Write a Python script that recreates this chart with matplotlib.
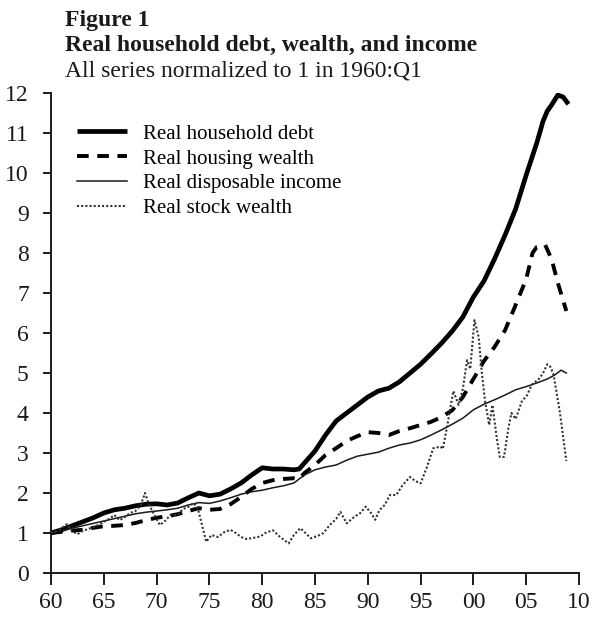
import numpy as np
import matplotlib
matplotlib.use("Agg")
import matplotlib.pyplot as plt

plt.rcParams['font.family'] = ['Liberation Serif', 'DejaVu Serif']

# years since 1900
debt_x = [60, 61, 62, 63, 64, 65, 66, 67, 68, 69, 70, 71, 72, 73, 74, 75, 76, 77, 78, 79,
          80, 81, 82, 83, 83.5, 84, 85, 86, 87, 88, 89, 90, 91, 92, 93, 94, 95, 96, 97, 98,
          99, 100, 101, 102, 103, 104, 105, 106, 106.6, 107, 107.4, 108, 108.5, 109]
debt_y = [1.0, 1.08, 1.18, 1.28, 1.38, 1.5, 1.58, 1.62, 1.68, 1.72, 1.73, 1.7, 1.75, 1.88, 2.0, 1.93, 1.97, 2.1, 2.25, 2.45,
          2.63, 2.6, 2.6, 2.58, 2.6, 2.75, 3.05, 3.45, 3.8, 4.0, 4.2, 4.4, 4.55, 4.62, 4.78, 5.0, 5.22, 5.48, 5.75, 6.05,
          6.4, 6.9, 7.3, 7.85, 8.45, 9.1, 9.95, 10.75, 11.3, 11.55, 11.7, 11.95, 11.9, 11.72]

housing_x = [60, 61, 62, 63, 64, 65, 66, 67, 68, 69, 70, 71, 72, 73, 74, 75, 76, 77, 78, 79,
             80, 81, 82, 83, 83.5, 84, 85, 86, 87, 88, 89, 90, 91, 92, 93, 94, 95, 96, 97, 98,
             99, 100, 101, 102, 103, 104, 105, 105.6, 106, 106.8, 107.4, 108, 108.8]
housing_y = [1.0, 1.03, 1.06, 1.08, 1.13, 1.17, 1.18, 1.2, 1.25, 1.32, 1.38, 1.42, 1.47, 1.55, 1.62, 1.58, 1.6, 1.72, 1.9, 2.1,
             2.25, 2.32, 2.35, 2.37, 2.35, 2.5, 2.7, 2.95, 3.12, 3.3, 3.42, 3.52, 3.5, 3.45, 3.55, 3.62, 3.7, 3.78, 3.9, 4.07,
             4.4, 4.85, 5.3, 5.65, 6.07, 6.7, 7.35, 8.0, 8.15, 8.2, 7.85, 7.25, 6.55]

income_x = [60, 61, 62, 63, 64, 65, 66, 67, 68, 69, 70, 71, 72, 73, 74, 75, 76, 77, 78, 79,
            80, 81, 82, 83, 84, 85, 86, 87, 88, 89, 90, 91, 92, 93, 94, 95, 96, 97, 98, 99,
            100, 101, 102, 103, 104, 105, 106, 107, 107.7, 108.3, 108.8]
income_y = [1.0, 1.05, 1.12, 1.18, 1.24, 1.3, 1.36, 1.42, 1.48, 1.52, 1.55, 1.58, 1.62, 1.7, 1.76, 1.74, 1.8, 1.88, 1.97, 2.03,
            2.07, 2.13, 2.18, 2.25, 2.45, 2.58, 2.65, 2.7, 2.82, 2.92, 2.97, 3.02, 3.12, 3.2, 3.25, 3.33, 3.45, 3.58, 3.72, 3.87,
            4.08, 4.22, 4.33, 4.45, 4.58, 4.66, 4.75, 4.85, 4.95, 5.07, 5.0]

stock_x = [60, 60.5, 61, 61.5, 62, 62.5, 63, 63.5, 64, 64.5, 65, 65.5, 66, 66.5, 67, 67.5, 68, 68.5, 68.9, 69.3,
           69.8, 70.3, 70.8, 71.3, 72, 72.5, 73, 73.5, 73.9, 74.3, 74.7, 75.2, 75.8, 76.4, 77, 77.5, 78, 78.5, 79.2, 79.8,
           80.3, 81, 81.7, 82.5, 83, 83.6, 84.1, 84.6, 85.2, 85.8, 86.4, 87, 87.4, 88, 88.7, 89.3, 89.8, 90.3, 90.7, 91.1,
           91.6, 92.1, 92.7, 93.3, 94, 94.5, 95, 95.6, 96.2, 96.9, 97.1, 97.4, 97.8, 98.1, 98.6, 99, 99.4, 99.7, 100.1, 100.5,
           100.8, 101.1, 101.5, 101.8, 102.2, 102.5, 102.9, 103.3, 103.6, 104, 104.6, 105.1, 105.5, 106.2, 106.6, 107, 107.3,
           107.6, 108.2, 108.8]
stock_y = [1.0, 1.05, 1.12, 1.22, 1.05, 0.97, 1.05, 1.1, 1.15, 1.2, 1.28, 1.35, 1.45, 1.32, 1.4, 1.5, 1.55, 1.7, 2.0, 1.7,
           1.45, 1.2, 1.3, 1.45, 1.45, 1.6, 1.65, 1.75, 1.62, 1.2, 0.78, 0.95, 0.9, 1.02, 1.08, 1.0, 0.9, 0.85, 0.88, 0.91,
           1.0, 1.07, 0.9, 0.74, 0.95, 1.12, 1.0, 0.87, 0.92, 1.0, 1.2, 1.35, 1.53, 1.24, 1.4, 1.5, 1.66, 1.5, 1.33, 1.57,
           1.7, 1.95, 1.95, 2.2, 2.4, 2.3, 2.24, 2.65, 3.12, 3.16, 3.1, 3.5, 4.1, 4.55, 4.2, 4.6, 5.32, 5.1, 6.32, 5.9,
           5.0, 4.3, 3.7, 4.2, 3.4, 2.9, 2.9, 3.6, 4.0, 3.85, 4.3, 4.45, 4.7, 4.85, 5.0, 5.22, 5.15,
           4.95, 4.0, 2.8]

x_ticks = [60, 65, 70, 75, 80, 85, 90, 95, 100, 105, 110]
x_labels = ['60', '65', '70', '75', '80', '85', '90', '95', '00', '05', '10']
y_ticks = list(range(0, 13))

labels = ['Real household debt', 'Real housing wealth', 'Real disposable income', 'Real stock wealth']


def main():
    fig = plt.figure(figsize=(5.92, 6.18), dpi=100)
    ax = fig.add_axes([51/592, 1-573/618, 528/592, 480/618])

    ink = '#1a1a1a'
    ax.plot(debt_x, debt_y, color='black', lw=3.4, label=labels[0], solid_capstyle='butt')
    ax.plot(housing_x, housing_y, color='black', lw=2.8, linestyle=(0, (3, 2.2)), label=labels[1])
    ax.plot(income_x, income_y, color=ink, lw=1.1, label=labels[2])
    ax.plot(stock_x, stock_y, color='#333333', lw=1.5, linestyle=(0, (1, 1)), label=labels[3])

    ax.set_xlim(60, 110)
    ax.set_ylim(0, 12)
    ax.set_xticks(x_ticks)
    ax.set_xticklabels(x_labels)
    ax.set_yticks(y_ticks)
    for s in ['top', 'right']:
        ax.spines[s].set_visible(False)
    for s in ['left', 'bottom']:
        ax.spines[s].set_linewidth(1.4)
        ax.spines[s].set_color(ink)
    ax.tick_params(axis='x', direction='out', length=8.5, width=1.4, pad=5, labelsize=17, colors=ink)
    ax.tick_params(axis='y', direction='out', length=6, width=1.4, pad=10, labelsize=17, colors=ink)

    ax.legend(loc='upper left', bbox_to_anchor=(0.049, 0.935), frameon=False, fontsize=15,
              handlelength=2.4, handletextpad=0.77, labelspacing=0.25, borderpad=0, borderaxespad=0)

    fig.text(65/592, 1-26/618, 'Figure 1', fontsize=17, fontweight='bold', va='baseline', color=ink)
    fig.text(65/592, 1-51/618, 'Real household debt, wealth, and income', fontsize=17,
             fontweight='bold', va='baseline', color=ink)
    fig.text(65/592, 1-76/618, 'All series normalized to 1 in 1960:Q1', fontsize=17, va='baseline', color=ink)

    fig.savefig('out.png', dpi=100)


if __name__ == "__main__":
    main()
